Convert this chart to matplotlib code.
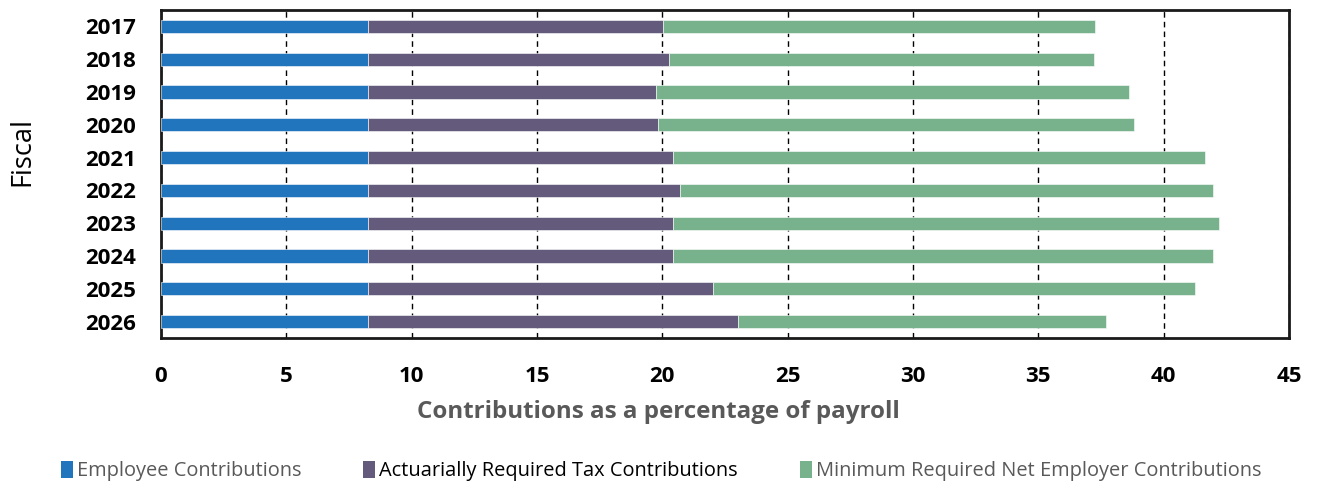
import matplotlib.pyplot as plt
from matplotlib.patches import Patch

plt.rcParams['font.family'] = ['Open Sans', 'DejaVu Sans']

years = ["2017", "2018", "2019", "2020", "2021", "2022", "2023", "2024", "2025", "2026"]
employee = [8.25, 8.25, 8.25, 8.25, 8.25, 8.25, 8.25, 8.25, 8.25, 8.25]
# cumulative ends
tax_end = [20.02, 20.25, 19.73, 19.84, 20.42, 20.69, 20.42, 20.44, 22.04, 23.04]
total_end = [37.27, 37.23, 38.60, 38.82, 41.66, 41.97, 42.20, 41.97, 41.24, 37.72]

tax = [t - e for t, e in zip(tax_end, employee)]
employer = [g - t for g, t in zip(total_end, tax_end)]

labels = ["Employee Contributions", "Actuarially Required Tax Contributions",
          "Minimum Required Net Employer Contributions"]
colors = ["#2075BD", "#645A7C", "#78B28C"]

fig = plt.figure(figsize=(13.17, 4.83), dpi=100)
ax = fig.add_axes([0.1222, 0.3002, 0.8565, 0.6791])

y = range(len(years))
h = 0.4
ax.barh(y, employee, height=h, color=colors[0], edgecolor="white", linewidth=0.4, zorder=3)
ax.barh(y, tax, left=employee, height=h, color=colors[1], edgecolor="white", linewidth=0.4, zorder=3)
ax.barh(y, employer, left=tax_end, height=h, color=colors[2], edgecolor="white", linewidth=0.4, zorder=3)

ax.set_ylim(len(years) - 0.5, -0.5)
ax.set_xlim(0, 45)
ax.set_xticks(range(0, 46, 5))
ax.set_yticks(list(y))
ax.set_yticklabels(years)
ax.tick_params(axis="both", length=0, labelsize=16)
ax.tick_params(axis="x", pad=20)
ax.tick_params(axis="y", pad=18)
for t in ax.get_xticklabels() + ax.get_yticklabels():
    t.set_fontweight("bold")

ax.grid(axis="x", color="black", linestyle=(0, (4, 3)), linewidth=1, zorder=0)
for s in ax.spines.values():
    s.set_linewidth(2)
    s.set_color("#1a1a1a")

fig.text(22 / 1317, 1 - 152 / 483, "Fiscal", rotation=90, ha="center", va="center",
         fontsize=19.5)
fig.text(0.5, 1 - 412 / 483, "Contributions as a percentage of payroll", ha="center",
         va="center", fontsize=17.4, fontweight="bold", color="#595959")

handles = [Patch(facecolor=c) for c in colors]
leg = fig.legend(handles, labels, loc="center", bbox_to_anchor=(0.502, 1 - 471 / 483), ncol=3,
                 frameon=False, fontsize=14.45, handlelength=0.6, handleheight=0.9,
                 handletextpad=0.2, columnspacing=3.1)
text_colors = ["#595959", "black", "#595959"]
for t, c in zip(leg.get_texts(), text_colors):
    t.set_color(c)

fig.savefig("out.png", dpi=100)
